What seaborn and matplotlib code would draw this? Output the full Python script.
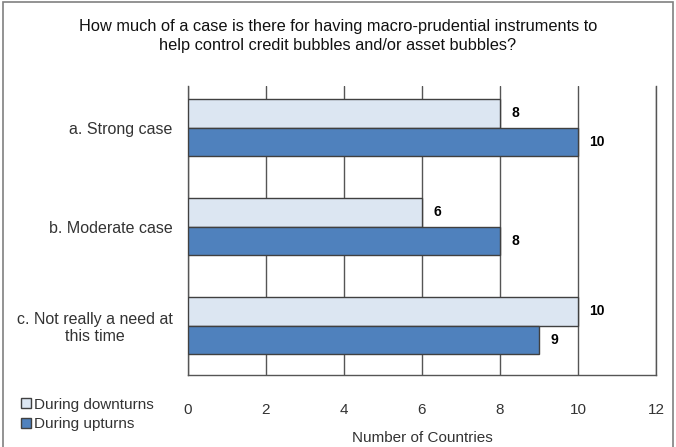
import matplotlib
matplotlib.use("Agg")
import matplotlib.pyplot as plt
from matplotlib.patches import Rectangle
from matplotlib.lines import Line2D
import seaborn as sns
import pandas as pd

categories = ["a. Strong case", "b. Moderate case", "c. Not really a need at\nthis time"]
series_names = ["During downturns", "During upturns"]
downturns = [8, 6, 10]
upturns = [10, 8, 9]
x_ticks = [0, 2, 4, 6, 8, 10, 12]
title = ("How much of a case is there for having macro-prudential instruments to\n"
         "help control credit bubbles and/or asset bubbles?")
x_label = "Number of Countries"

df = pd.DataFrame({
    "category": categories * 2,
    "series": [series_names[0]] * 3 + [series_names[1]] * 3,
    "value": downturns + upturns,
})

sns.set_theme(style="white")
plt.rcParams["font.family"] = ["Liberation Sans", "DejaVu Sans"]

colors = {"During downturns": "#DCE6F2", "During upturns": "#4F81BD"}
edge = "#404040"
grid_color = "#555555"
text_color = "#333333"

fig = plt.figure(figsize=(6.76, 4.47), dpi=100)
ax = fig.add_axes([188 / 676, 1 - 375 / 447, (656 - 188) / 676, (375 - 86) / 447])

sns.barplot(data=df, y="category", x="value", hue="series", hue_order=series_names,
            order=categories, palette=colors, saturation=1, orient="h", width=0.58,
            dodge=True, edgecolor=edge, linewidth=1, ax=ax, legend=False, zorder=3)

for cont in ax.containers:
    ax.bar_label(cont, fmt="%d", padding=8, fontsize=10, fontweight="bold", color="black")

ax.set_xlim(0, 12)
ax.set_xticks(x_ticks)
ax.set_xticklabels([str(t) for t in x_ticks], fontsize=11, color=text_color)
ax.tick_params(axis="x", length=0, pad=20)
ax.xaxis.grid(True, color=grid_color, linewidth=1, zorder=0)
ax.set_axisbelow(True)

ax.set_ylim(2.5, -0.42)
ax.set_yticks(range(len(categories)))
ax.set_yticklabels(categories, fontsize=11.5, color=text_color)
for lbl in ax.get_yticklabels():
    lbl.set_multialignment("center")
ax.tick_params(axis="y", which="major", length=0, pad=11)
ax.set_yticks([0.5, 1.5, 2.5], minor=True)
ax.tick_params(axis="y", which="minor", length=6, width=1, color=grid_color, direction="out")

ax.set_xlabel(x_label, fontsize=11, color=text_color, labelpad=10)
ax.set_ylabel("")

for side in ["left", "bottom", "right"]:
    ax.spines[side].set_visible(True)
    ax.spines[side].set_color(grid_color)
    ax.spines[side].set_linewidth(1)
ax.spines["top"].set_visible(False)

fig.text(0.5, 1 - 36 / 447, title, ha="center", va="center", fontsize=11.8,
         color="#111111", linespacing=1.3, fontweight="medium")

handles = [Line2D([], [], marker="s", linestyle="none", markersize=7,
                  markerfacecolor=colors[s], markeredgecolor=edge, markeredgewidth=1)
           for s in series_names]
fig.legend(handles, series_names, loc="upper left", bbox_to_anchor=(14 / 676, 1 - 390 / 447),
           frameon=False, fontsize=11, handlelength=0.6, handletextpad=0.2,
           labelspacing=0.35, borderpad=0, labelcolor=text_color)

fig.patches.append(Rectangle((3 / 676, -0.02), 670 / 676, 1.0 - 2 / 447 + 0.02,
                             transform=fig.transFigure, fill=False,
                             edgecolor="#808080", linewidth=1.2))

fig.savefig("out.png", dpi=100)
